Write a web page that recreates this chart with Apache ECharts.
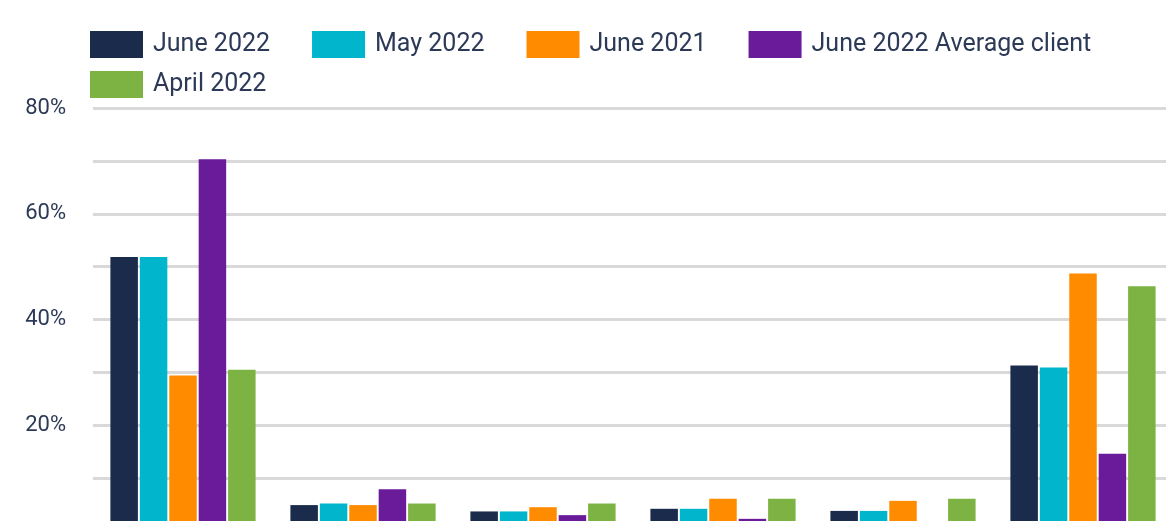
<!DOCTYPE html>
<html>
<head>
<meta charset="utf-8">
<script src="https://cdn.jsdelivr.net/npm/echarts@6/dist/echarts.min.js"></script>
<style>
  html, body { margin: 0; padding: 0; background: #fff; overflow: hidden; }
  #chart { width: 1173px; height: 600px; }
</style>
</head>
<body>
<div id="chart"></div>
<script>
// x labels sit below the visible crop, so these are placeholders
const categories = ["Group 1", "Group 2", "Group 3", "Group 4", "Group 5", "Group 6"];
const june2022 = [51.8, 4.9, 3.7, 4.2, 3.8, 31.3];
const may2022 = [51.8, 5.2, 3.7, 4.2, 3.8, 30.9];
const june2021 = [29.4, 4.9, 4.5, 6.1, 5.7, 48.7];
const june2022Avg = [70.3, 7.9, 3.0, 2.3, 0, 14.6];
const april2022 = [30.5, 5.2, 5.2, 6.1, 6.1, 46.3];
const yTicks = [0, 20, 40, 60, 80];

const chart = echarts.init(document.getElementById("chart"));

const bar = (name, data, color) => ({
  name, type: "bar", data,
  barWidth: 27.5, barGap: "7%",
  itemStyle: { color },
});

chart.setOption({
  animation: false,
  textStyle: { fontFamily: "Roboto" },
  legend: {
    left: 90, top: 30, width: 1040, padding: 0,
    itemWidth: 53, itemHeight: 27, itemGap: 11,
    icon: "rect",
    textStyle: {
      fontSize: 25, color: "#2c3a57", lineHeight: 27,
      padding: [2, 31, 0, 5],
    },
  },
  grid: { left: 93, right: 0, top: 108, bottom: 69 },
  xAxis: {
    type: "category", data: categories,
    axisLine: { show: false }, axisTick: { show: false },
    axisLabel: { fontSize: 18, color: "#2c3a57" },
  },
  yAxis: {
    type: "value", min: 0, max: 80, interval: 10,
    axisLabel: {
      fontSize: 22, color: "#2c3a57", margin: 27,
      formatter: v => yTicks.includes(v) && v > 0 ? v + "%" : "",
    },
    splitLine: { lineStyle: { color: "#d9d9d9", width: 3 } },
  },
  series: [
    bar("June 2022", june2022, "#1a2b4c"),
    bar("May 2022", may2022, "#00b5cc"),
    bar("June 2021", june2021, "#ff8c00"),
    bar("June 2022 Average client", june2022Avg, "#6a1b9a"),
    bar("April 2022", april2022, "#7cb342"),
  ],
});
</script>
</body>
</html>
